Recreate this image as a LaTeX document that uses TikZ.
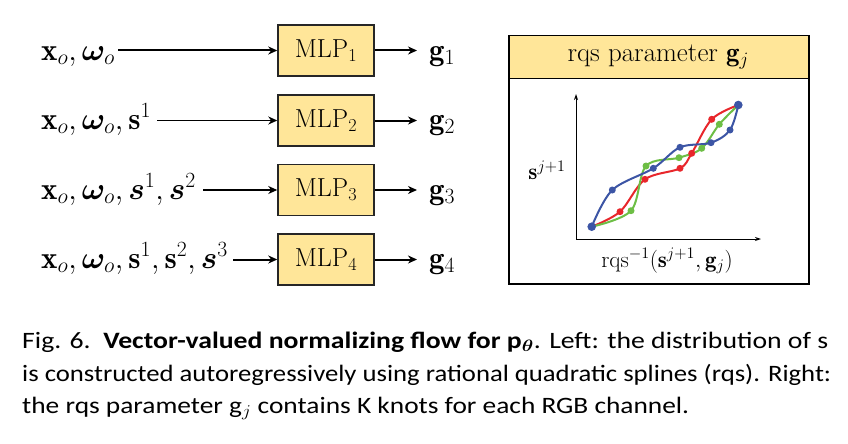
\documentclass[tikz,border=0pt]{standalone}
\usepackage{fix-cm}
\usepackage{amsmath,bm}
\usepackage{graphicx}
\usepackage{fontspec}
\newfontfamily\capfont{Carlito}
\usetikzlibrary{arrows.meta}
\definecolor{boxfill}{HTML}{FFE699}
\definecolor{cred}{HTML}{E8262B}
\definecolor{cgreen}{HTML}{6DBE45}
\definecolor{cblue}{HTML}{3C55A5}
\tikzset{
  lbl/.style={anchor=base west, inner ysep=0pt, inner xsep=3pt, font=\fontsize{31}{31}\selectfont},
  glbl/.style={anchor=base west, inner sep=0pt, font=\fontsize{31}{31}\selectfont},
  mlp/.style={draw=black!85, line width=1.5pt, fill=boxfill, minimum width=96, minimum height=51, inner sep=0pt, font=\fontsize{26}{26}\selectfont},
  ar/.style={-{Stealth[length=9pt,width=8pt]}, line width=2pt},
  thinar/.style={-{Stealth[length=9pt,width=8pt]}, line width=1.5pt},
  axis/.style={-{Stealth[length=6pt,width=4pt]}, line width=1pt},
  spl/.style={line width=2pt},
  captxt/.style={anchor=base west, inner sep=0pt, font=\capfont\fontsize{23.5}{23.5}\selectfont},
}
\begin{document}
\begin{tikzpicture}[x=1pt,y=-1pt]
\useasboundingbox (0,0) rectangle (848,444);
% left: MLP boxes
\node[mlp] (m1) at (326,50.5) {MLP$_1$};
\node[mlp] (m2) at (326,120.5) {MLP$_2$};
\node[mlp] (m3) at (326,190) {MLP$_3$};
\node[mlp] (m4) at (326,259.5) {MLP$_4$};
\node[lbl] (l1) at (38,60) {$\mathbf{x}_o,\bm{\omega}_o$};
\node[lbl, inner xsep=6pt] (l2) at (35,129) {$\mathbf{x}_o,\bm{\omega}_o,\mathbf{s}^1$};
\node[lbl, inner xsep=7pt] (l3) at (34,199) {$\mathbf{x}_o,\bm{\omega}_o,\bm{s}^1,\bm{s}^2$};
\node[lbl, inner xsep=5pt] (l4) at (36,268) {$\mathbf{x}_o,\bm{\omega}_o,\mathbf{s}^1,\mathbf{s}^2,\bm{s}^3$};
\node[glbl] (g1) at (429,60) {$\mathbf{g}_1$};
\node[glbl] (g2) at (429,129) {$\mathbf{g}_2$};
\node[glbl] (g3) at (429,199) {$\mathbf{g}_3$};
\node[glbl] (g4) at (429,268) {$\mathbf{g}_4$};
\draw[ar] (l1.east |- m1.west) -- (m1.west);
\draw[thinar] (l2.east |- m2.west) -- (m2.west);
\draw[thinar] (l3.east |- m3.west) -- (m3.west);
\draw[ar] (l4.east |- m4.west) -- (m4.west);
\foreach \i in {1,2,3,4}{
  \draw[ar] (m\i.east) -- ([xshift=-12pt]g\i.west |- m\i.east);
}
% right panel
\node[fill=boxfill, anchor=north west, minimum width=300, minimum height=43, inner sep=0pt, font=\fontsize{27}{27}\selectfont] (hdr) at (508,35) {rqs parameter $\mathbf{g}_j$};
\draw[line width=1.3pt] (hdr.south west) -- (hdr.south east);
\node[draw, line width=1.5pt, anchor=north west, minimum width=300, minimum height=248, inner sep=0pt] (panel) at (508,35) {};
\coordinate (o) at (576,239);
\coordinate (xe) at (761,239);
\coordinate (ye) at (576,94);
\draw[axis] (o) -- (xe);
\draw[axis] (o) -- (ye);
\node[font=\fontsize{23}{23}\selectfont] (ylab) at (547,170) {$\mathbf{s}^{j+1}$};
\node[font=\fontsize{23}{23}\selectfont] (xlab) at (667,261) {$\mathrm{rqs}^{-1}(\mathbf{s}^{j+1},\mathbf{g}_j)$};
% splines
\draw[spl, cred] plot[smooth, tension=0.55] coordinates {(591.7,226.7) (620,211.7) (645,179.3) (680,168.3) (691.7,153.3) (711.7,119.3) (738.3,105)};
\draw[spl, cgreen] plot[smooth, tension=0.55] coordinates {(591.7,226.7) (631,210.7) (646,166) (679,157.7) (701.7,148.3) (719.3,124.3) (738.3,105)};
\draw[spl, cblue] plot[smooth, tension=0.55] coordinates {(591.7,226.7) (612.3,190) (653.3,168.3) (680,147.3) (711,142.7) (730,130) (738.3,105)};
\foreach \p in {(620,211.7),(645,179.3),(680,168.3),(691.7,153.3),(711.7,119.3)} \fill[cred] \p circle (3.5);
\foreach \p in {(631,210.7),(646,166),(679,157.7),(701.7,148.3),(719.3,124.3)} \fill[cgreen] \p circle (3.5);
\foreach \p in {(612.3,190),(653.3,168.3),(680,147.3),(711,142.7),(730,130)} \fill[cblue] \p circle (3.5);
\foreach \p in {(591.7,226.7),(738.3,105)} \fill[cblue] \p circle (4.3);
% caption
\node[captxt] (c1) at (22,348) {\resizebox{806pt}{\height}{Fig. 6.\ \ \textbf{Vector-valued normalizing flow for p$_{\bm{\theta}}$}. Left: the distribution of s}};
\node[captxt] (c2) at (22,381) {\resizebox{809pt}{\height}{is constructed autoregressively using rational quadratic splines (rqs). Right:}};
\node[captxt] (c3) at (22,413) {\resizebox{667pt}{\height}{the rqs parameter g$_{j}$ contains K knots for each RGB channel.}};
\end{tikzpicture}
\end{document}
